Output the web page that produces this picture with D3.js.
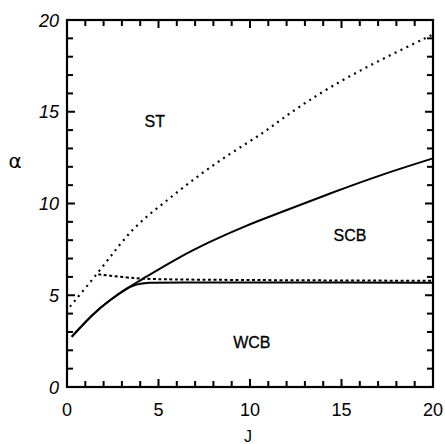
<!DOCTYPE html>
<html><head><meta charset="utf-8">
<script src="https://cdn.jsdelivr.net/npm/d3@7"></script>
<style>body{margin:0;background:#fff}svg{display:block}</style>
</head><body><svg id="c" width="445" height="444"></svg>
<script>
// Data
const xTicks = [0, 5, 10, 15, 20];
const yTicks = [0, 5, 10, 15, 20];
const minorTicks = [1, 2, 3, 4, 6, 7, 8, 9, 11, 12, 13, 14, 16, 17, 18, 19];
const upperSolidJ = [0.26, 1.44, 2.35, 3.26, 4.26, 6.0, 7.81, 9.63, 11.64, 14.37, 17.1, 20];
const upperSolidA = [2.74, 4.02, 4.74, 5.38, 5.96, 7.01, 7.92, 8.74, 9.5, 10.55, 11.55, 12.46];
const lowerSolidJ = [0.26, 1.44, 2.35, 3.26, 3.8, 4.3, 6, 10, 15, 20];
const lowerSolidA = [2.74, 4.02, 4.74, 5.38, 5.6, 5.7, 5.7, 5.7, 5.69, 5.68];
const stDottedJ = [0.16, 1.98, 3.53, 5.26, 7.09, 8.91, 10.73, 12.0, 14.37, 17.1, 19.93];
const stDottedA = [4.38, 6.56, 8.65, 10.01, 11.46, 12.73, 13.83, 14.82, 16.37, 17.82, 19.18];
const flatDottedJ = [1.71, 3.26, 4.2, 5.0, 8, 12, 16, 20];
const flatDottedA = [6.14, 5.96, 5.9, 5.87, 5.84, 5.82, 5.8, 5.79];
const regionLabels = ["ST", "SCB", "WCB"];
const regionJ = [4.8, 15.46, 10.1];
const regionA = [14.17, 7.96, 2.13];

const svg = d3.select("#c");
const L = 67, R = 433, T = 20, B = 387;
const x = d3.scaleLinear().domain([0, 20]).range([L, R]);
const y = d3.scaleLinear().domain([0, 20]).range([B, T]);
const font = "'Liberation Sans', Arial, Helvetica, sans-serif";

// Inward ticks on all four sides
function ticks(vals, len) {
  const segs = [];
  vals.forEach(d => {
    segs.push([x(d), B, x(d), B - len]);
    segs.push([x(d), T, x(d), T + len]);
    segs.push([L, y(d), L + len, y(d)]);
    segs.push([R, y(d), R - len, y(d)]);
  });
  svg.append("g").selectAll("line").data(segs).enter().append("line")
    .attr("x1", s => s[0]).attr("y1", s => s[1])
    .attr("x2", s => s[2]).attr("y2", s => s[3])
    .attr("stroke", "#000").attr("stroke-width", 2);
}
ticks(xTicks, 8);
ticks(minorTicks, 6);

svg.append("rect").attr("x", L).attr("y", T).attr("width", R - L).attr("height", B - T)
  .attr("fill", "none").attr("stroke", "#000").attr("stroke-width", 2.2);

// Tick labels
svg.append("g").selectAll("text").data(yTicks).join("text")
  .attr("x", L - 8).attr("y", d => y(d) + 6.5).attr("text-anchor", "end")
  .attr("font-family", font).attr("font-style", "italic").attr("font-size", 18)
  .text(d => d);
svg.append("g").selectAll("text").data(xTicks).join("text")
  .attr("x", d => x(d)).attr("y", 416).attr("text-anchor", "middle")
  .attr("font-family", font).attr("font-size", 18)
  .text(d => d);

// Axis titles
svg.append("text").attr("x", 15).attr("y", 168).attr("text-anchor", "middle")
  .attr("font-family", "'DejaVu Sans', sans-serif").attr("font-size", 20).text("α");
svg.append("text").attr("x", 248).attr("y", 442).attr("text-anchor", "middle")
  .attr("font-family", font).attr("font-size", 16).text("J");

// Curves
const line = d3.line().x(d => x(d[0])).y(d => y(d[1])).curve(d3.curveBasis);
function draw(js, as, dash, w) {
  svg.append("path").datum(d3.zip(js, as)).attr("d", line)
    .attr("fill", "none").attr("stroke", "#000").attr("stroke-width", w)
    .attr("stroke-dasharray", dash);
}
draw(upperSolidJ, upperSolidA, null, 2);
draw(lowerSolidJ, lowerSolidA, null, 2);
draw(stDottedJ, stDottedA, "2,4.5", 2.2);
draw(flatDottedJ, flatDottedA, "3,2.5", 2);

// Region labels
svg.append("g").selectAll("text").data(regionLabels).join("text")
  .attr("x", (d, i) => x(regionJ[i])).attr("y", (d, i) => y(regionA[i]))
  .attr("text-anchor", "middle").attr("font-family", font).attr("font-size", 16)
  .attr("stroke", "#000").attr("stroke-width", 0.3)
  .text(d => d);
</script></body></html>
